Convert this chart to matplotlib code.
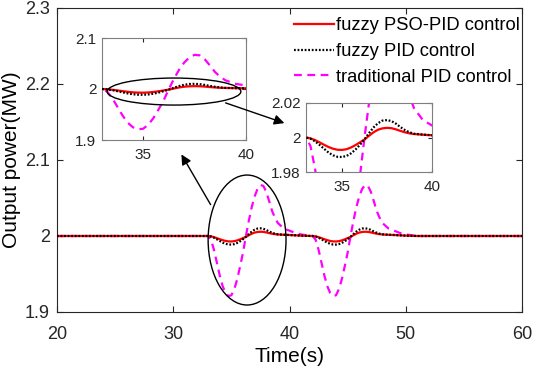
import matplotlib
matplotlib.use("Agg")
import matplotlib.pyplot as plt
from matplotlib.patches import Ellipse, FancyArrowPatch
from matplotlib.ticker import FormatStrFormatter

plt.rcParams['font.family'] = ['Liberation Sans', 'DejaVu Sans']

# time after the start of each disturbance (s)
tau = [0, 0.25, 0.5, 0.75, 1.0, 1.25, 1.5, 1.75, 2.0, 2.25, 2.5, 2.75, 3.0,
       3.25, 3.5, 3.75, 4.0, 4.25, 4.5, 4.75, 5.0, 5.25, 5.5, 5.75, 6.0,
       6.5, 7.0, 7.5, 8.0, 8.5, 9.0]

# response of each controller to one disturbance (MW)
pso_pid = [2.0000, 1.9995, 1.9985, 1.9972, 1.9958, 1.9945, 1.9935, 1.9929,
           1.9928, 1.9932, 1.9942, 1.9956, 1.9972, 1.9988, 2.0010, 2.0030,
           2.0045, 2.0053, 2.0056, 2.0054, 2.0047, 2.0038, 2.0030, 2.0024,
           2.0020, 2.0016, 2.0013, 2.0009, 2.0005, 2.0002, 2.0000]
fuzzy_pid = [2.0000, 1.9993, 1.9978, 1.9957, 1.9935, 1.9913, 1.9897, 1.9888,
             1.9887, 1.9893, 1.9908, 1.9930, 1.9958, 1.9990, 2.0025, 2.0058,
             2.0083, 2.0098, 2.0101, 2.0095, 2.0080, 2.0060, 2.0043, 2.0030,
             2.0022, 2.0017, 2.0013, 2.0009, 2.0005, 2.0002, 2.0000]
trad_pid = [2.000, 1.995, 1.982, 1.965, 1.948, 1.934, 1.925, 1.921,
            1.922, 1.930, 1.943, 1.960, 1.978, 2.000, 2.020, 2.038,
            2.052, 2.062, 2.067, 2.066, 2.058, 2.046, 2.033, 2.024,
            2.017, 2.010, 2.007, 2.004, 2.002, 2.001, 2.000]

event_starts = [33, 42]
t_start, t_end = 20, 60
steady = 2.0

labels = ['fuzzy PSO-PID control', 'fuzzy PID control', 'traditional PID control']


def full_series(resp):
    t = [t_start]
    y = [steady]
    for s in event_starts:
        for dt, v in zip(tau, resp):
            t.append(s + dt)
            y.append(v)
    t.append(t_end)
    y.append(steady)
    return t, y


series = [full_series(pso_pid), full_series(fuzzy_pid), full_series(trad_pid)]
styles = [dict(color='#ff0000', ls='-', lw=1.6, zorder=3),
          dict(color='black', ls=(0, (0.8, 0.8)), lw=1.6, zorder=4),
          dict(color='#ff00ff', ls=(0, (3.5, 2.5)), lw=1.6, zorder=2)]

W, H = 533, 375
fig = plt.figure(figsize=(W / 100, H / 100), dpi=100)


def fig_rect(x0, y0, x1, y1):
    # pixel box (top-left origin) -> figure fraction rect
    return [x0 / W, 1 - y1 / H, (x1 - x0) / W, (y1 - y0) / H]


def style_axes(ax, size, pad_x, pad_y, tick_len):
    for sp in ax.spines.values():
        sp.set_color('#262626')
        sp.set_linewidth(0.8)
    ax.tick_params(direction='in', length=tick_len, width=0.8, colors='#262626',
                   labelsize=size, top=True, right=True)
    ax.tick_params(axis='x', pad=pad_x)
    ax.tick_params(axis='y', pad=pad_y)
    ax.yaxis.set_major_formatter(FormatStrFormatter('%g'))


ax = fig.add_axes(fig_rect(57, 8, 522, 312))
lines = []
for (t, y), st, lab in zip(series, styles, labels):
    ln, = ax.plot(t, y, label=lab, **st)
    lines.append(ln)
ax.set_xlim(20, 60)
ax.set_ylim(1.9, 2.3)
ax.set_xticks([20, 30, 40, 50, 60])
ax.set_yticks([1.9, 2.0, 2.1, 2.2, 2.3])
style_axes(ax, 13, 10, 5, 4)
ax.set_xlabel('Time(s)', fontsize=15, labelpad=3)
ax.set_ylabel('Output power(MW)', fontsize=15, labelpad=3)
ax.add_patch(Ellipse((36.35, 1.9947), 6.7, 0.171, fill=False, ec='black', lw=1, zorder=5))

leg = ax.legend(handles=lines, loc='upper right', bbox_to_anchor=(1.0153, 1.0),
                frameon=False, fontsize=13.2, handlelength=2.2, handletextpad=0.1,
                labelspacing=0.48, borderaxespad=0.1)

# inset 1
ax1 = fig.add_axes(fig_rect(102, 38, 246, 140))
for (t, y), st in zip(series, styles):
    ax1.plot(t, y, **st)
ax1.set_xlim(33, 40)
ax1.set_ylim(1.9, 2.1)
ax1.set_xticks([35, 40])
ax1.set_yticks([1.9, 2.0, 2.1])
style_axes(ax1, 11, 6, 4, 3)
for sp in ax1.spines.values():
    sp.set_color('#7f7f7f')
ax1.add_patch(Ellipse((36.5, 1.995), 6.5, 0.053, fill=False, ec='black', lw=1, zorder=6))

# inset 2
ax2 = fig.add_axes(fig_rect(306, 103, 432, 172))
for (t, y), st in zip(series, styles):
    ax2.plot(t, y, **st)
ax2.set_xlim(33, 40)
ax2.set_ylim(1.98, 2.02)
ax2.set_xticks([35, 40])
ax2.set_yticks([1.98, 2.0, 2.02])
style_axes(ax2, 11, 6, 4, 3)
for sp in ax2.spines.values():
    sp.set_color('#7f7f7f')

# arrows (pixel positions, top-left origin)
arrows = [((212, 207), (180, 152)), ((223, 102), (287, 124))]
for (x0, y0), (x1, y1) in arrows:
    fig.add_artist(FancyArrowPatch(
        (x0 / W, 1 - y0 / H), (x1 / W, 1 - y1 / H), transform=fig.transFigure,
        arrowstyle='-|>', mutation_scale=15, color='black', lw=1, zorder=10))

fig.savefig('out.png', dpi=100)
